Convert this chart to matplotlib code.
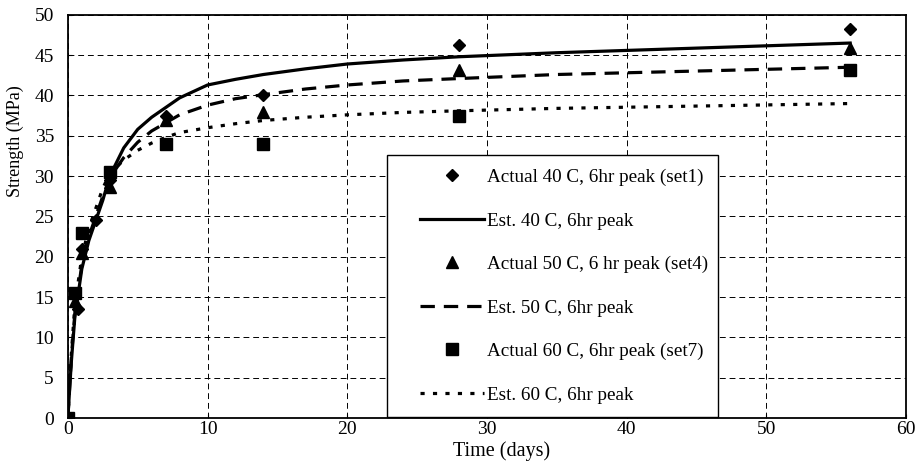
import matplotlib
matplotlib.use("Agg")
import matplotlib.pyplot as plt
from matplotlib.lines import Line2D
from matplotlib.legend_handler import HandlerLine2D

# Measured data
t_set1 = [0, 0.75, 1, 2, 3, 7, 14, 28, 56]
s_set1 = [0, 13.5, 21.0, 24.5, 29.5, 37.5, 40.0, 46.3, 48.3]

t_set4 = [0, 0.5, 1, 3, 7, 14, 28, 56]
s_set4 = [0, 14.5, 20.5, 28.7, 37.0, 38.0, 43.2, 45.9]

t_set7 = [0, 0.5, 1, 3, 7, 14, 28, 56]
s_set7 = [0, 15.5, 23.0, 30.5, 34.0, 34.0, 37.5, 43.2]

# Estimated curves
t_est = [0, 0.25, 0.5, 1, 1.5, 2, 2.5, 3, 4, 5, 6, 7, 8, 10, 12, 14, 17, 20, 24, 28, 35, 42, 49, 56]
s_est40 = [0, 7, 12.5, 18.5, 22, 24.5, 27, 30, 33.5, 35.8, 37.3, 38.5, 39.7, 41.3, 42, 42.6,
           43.3, 43.9, 44.4, 44.8, 45.3, 45.7, 46.1, 46.5]
s_est50 = [0, 7.5, 13, 19, 22.5, 25, 27.5, 29.8, 32.3, 34.2, 35.6, 36.6, 37.6, 38.8, 39.6, 40.1,
           40.8, 41.3, 41.8, 42.1, 42.6, 42.9, 43.2, 43.5]
s_est60 = [0, 8, 14, 20, 23.5, 26, 28.5, 30.3, 32, 33.2, 34.1, 34.8, 35.4, 36.0, 36.5, 36.9,
           37.3, 37.6, 37.9, 38.1, 38.4, 38.6, 38.8, 39.0]

labels = ["Actual 40 C, 6hr peak (set1)", "Est. 40 C, 6hr peak",
          "Actual 50 C, 6 hr peak (set4)", "Est. 50 C, 6hr peak",
          "Actual 60 C, 6hr peak (set7)", "Est. 60 C, 6hr peak"]

plt.rcParams['font.family'] = ['Liberation Serif', 'DejaVu Serif']

fig = plt.figure(figsize=(9.17, 4.63), dpi=100)
ax = fig.add_axes([0.074, 0.097, 0.914, 0.871])

h1, = ax.plot(t_set1, s_set1, linestyle='none', marker='D', color='black', markersize=6.5)
h2, = ax.plot(t_est, s_est40, color='black', lw=2.3)
h3, = ax.plot(t_set4, s_set4, linestyle='none', marker='^', color='black', markersize=8)
h4, = ax.plot(t_est, s_est50, color='black', lw=2.3, dashes=(4.5, 2.8))
h5, = ax.plot(t_set7, s_set7, linestyle='none', marker='s', color='black', markersize=8.5)
h6, = ax.plot(t_est, s_est60, color='black', lw=2.3, dashes=(1.3, 2.6))

ax.set_xlim(0, 60)
ax.set_ylim(0, 50)
ax.set_xticks(range(0, 61, 10))
ax.set_yticks(range(0, 51, 5))
ax.grid(True, color='black', lw=0.7, dashes=(6, 4))
ax.set_axisbelow(True)
ax.tick_params(axis='y', labelsize=14, length=3, direction='in', pad=10)
ax.tick_params(axis='x', labelsize=14, length=3, direction='in', pad=2)
for sp in ax.spines.values():
    sp.set_linewidth(1.3)

ax.set_xlabel("Time (days)", fontsize=14.5)
ax.xaxis.set_label_coords(0.518, -0.057)
ax.set_ylabel("Strength (MPa)", fontsize=13)
ax.yaxis.set_label_coords(-0.052, 0.687)

leg = ax.legend([h1, h2, h3, h4, h5, h6], labels, loc='upper left',
                bbox_to_anchor=(0.381, 0.0, 0.395, 0.653), mode='expand',
                fontsize=13.8, labelspacing=1.36, borderpad=0.72, handlelength=4.33,
                handletextpad=0.15, numpoints=1, fancybox=False, framealpha=1,
                edgecolor='black', borderaxespad=0,
                handler_map={Line2D: HandlerLine2D(xpad=1.0)})
leg.get_frame().set_linewidth(1.0)

fig.savefig("out.png", dpi=100)
